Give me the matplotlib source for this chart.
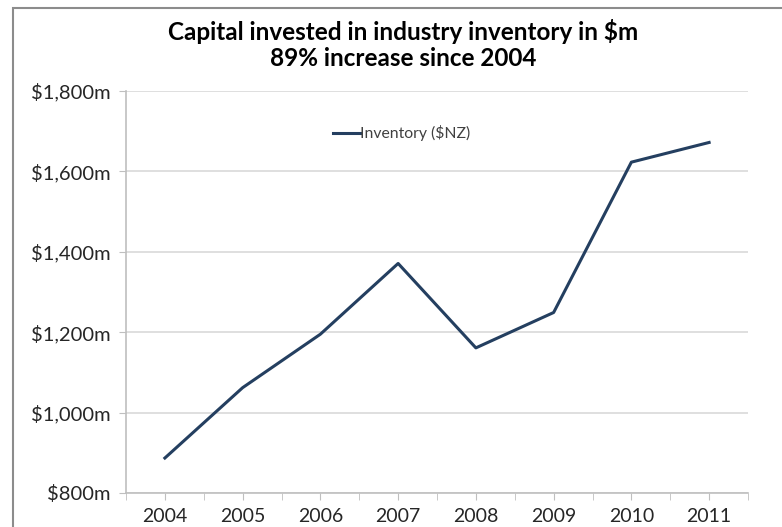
import numpy as np
import matplotlib.pyplot as plt
from matplotlib.patches import Rectangle
from matplotlib.ticker import FuncFormatter, FixedLocator

years = ['2004', '2005', '2006', '2007', '2008', '2009', '2010', '2011']
inventory = [887, 1062, 1195, 1371, 1161, 1249, 1623, 1672]

plt.rcParams['font.family'] = ['Lato', 'DejaVu Sans']

fig = plt.figure(figsize=(7.82, 5.27), dpi=100)
ax = fig.add_axes([126 / 782, 34 / 527, 622 / 782, 402 / 527])

x = np.arange(len(years))
ax.plot(x, inventory, color='#243F60', lw=2.2, label='Inventory ($NZ)')

ax.set_xlim(-0.5, len(years) - 0.5)
ax.set_ylim(800, 1800)
ax.set_yticks(np.arange(800, 1801, 200))
ax.yaxis.set_major_formatter(FuncFormatter(lambda v, p: '${:,.0f}m'.format(v)))
ax.set_xticks(x)
ax.set_xticklabels(years)
ax.xaxis.set_minor_locator(FixedLocator(np.arange(-0.5, len(years), 1.0)))

ax.grid(axis='y', color='#d9d9d9', lw=1.2)
ax.set_axisbelow(True)
for s in ['top', 'right']:
    ax.spines[s].set_visible(False)
for s in ['left', 'bottom']:
    ax.spines[s].set_color('#bfbfbf')
    ax.spines[s].set_linewidth(1.2)

ax.tick_params(axis='y', length=5, color='#bfbfbf', labelsize=14.5, labelcolor='#262626', pad=6)
ax.tick_params(axis='x', which='both', length=5, color='#bfbfbf', direction='out')
ax.tick_params(axis='x', which='major', labelsize=14, labelcolor='#262626', pad=6)

ax.legend(loc='center left', bbox_to_anchor=(207 / 622, 0.895), frameon=False,
          fontsize=11.3, handlelength=1.7, handletextpad=0.05, borderpad=0,
          borderaxespad=0, labelcolor='#404040')

fig.text(403 / 782, 1 - 31 / 527, 'Capital invested in industry inventory in $m',
         ha='center', va='center', fontsize=17.5, fontweight='bold', color='black')
fig.text(403 / 782, 1 - 58 / 527, '89% increase since 2004',
         ha='center', va='center', fontsize=17.5, fontweight='bold', color='black')

fig.patches.append(Rectangle((13 / 782, -0.05), 1.2, 1.05 - 8 / 527, transform=fig.transFigure,
                             fill=False, edgecolor='#8c8c8c', lw=1.5))

plt.savefig('out.png', dpi=100)
